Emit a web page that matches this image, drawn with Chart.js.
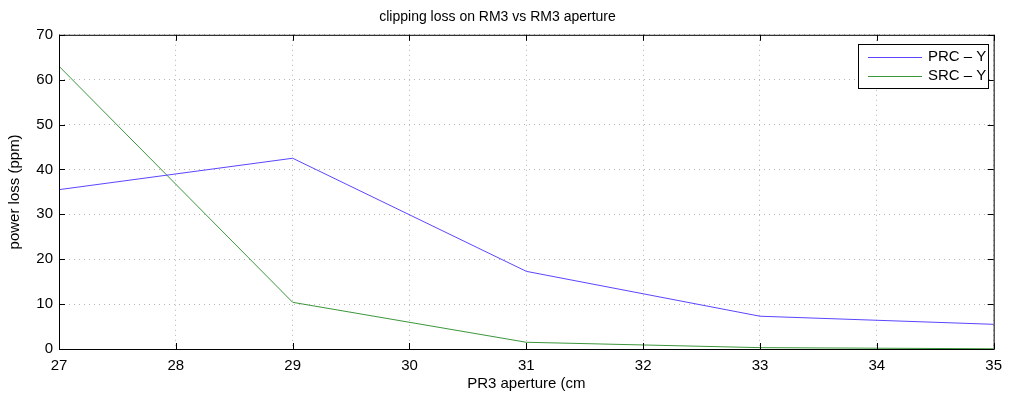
<!DOCTYPE html>
<html>
<head>
<meta charset="utf-8">
<script src="https://cdn.jsdelivr.net/npm/chart.js@4/dist/chart.umd.min.js"></script>
<style>
  html, body { margin: 0; padding: 0; background: #fff; }
  #wrap { width: 1010px; height: 393px; }
</style>
</head>
<body>
<div id="wrap"><canvas id="chart"></canvas></div>
<script>
// aperture (cm)
var apertures = [27, 29, 31, 33, 35];
// clipping loss (ppm)
var prcY = [35.5, 42.5, 17.3, 7.3, 5.5];
var srcY = [63, 10.4, 1.5, 0.3, 0.05];
var xTicks = [27, 28, 29, 30, 31, 32, 33, 34, 35];
var yTicks = [0, 10, 20, 30, 40, 50, 60, 70];

var FONT = '"Liberation Sans", Arial, Helvetica, sans-serif';

function toPoints(xs, ys) {
    return xs.map(function (x, i) { return { x: x, y: ys[i] }; });
}

// box, inward ticks and legend, matlab style
var boxPlugin = {
    id: 'box',
    afterDraw: function (chart) {
        var ctx = chart.ctx;
        var a = chart.chartArea;
        var xs = chart.scales.x, ys = chart.scales.y;
        ctx.save();
        ctx.strokeStyle = '#000';
        ctx.lineWidth = 1;
        ctx.strokeRect(a.left + 0.5, a.top + 0.5, a.right - a.left, a.bottom - a.top);

        ctx.beginPath();
        xTicks.forEach(function (v) {
            var px = Math.round(xs.getPixelForValue(v)) + 0.5;
            ctx.moveTo(px, a.bottom); ctx.lineTo(px, a.bottom - 6);
            ctx.moveTo(px, a.top); ctx.lineTo(px, a.top + 6);
        });
        yTicks.forEach(function (v) {
            var py = Math.round(ys.getPixelForValue(v)) + 0.5;
            ctx.moveTo(a.left, py); ctx.lineTo(a.left + 6, py);
            ctx.moveTo(a.right, py); ctx.lineTo(a.right - 6, py);
        });
        ctx.stroke();

        // legend
        var lx = 858, ly = 44, lw = 130, lh = 44;
        ctx.fillStyle = '#fff';
        ctx.fillRect(lx, ly, lw, lh);
        ctx.strokeStyle = '#000';
        ctx.strokeRect(lx + 0.5, ly + 0.5, lw, lh);
        ctx.font = '15px ' + FONT;
        ctx.textBaseline = 'middle';
        chart.data.datasets.forEach(function (ds, i) {
            var yy = ly + 13 + i * 19;
            ctx.strokeStyle = ds.borderColor;
            ctx.beginPath();
            ctx.moveTo(lx + 10, yy + 0.5);
            ctx.lineTo(lx + 64, yy + 0.5);
            ctx.stroke();
            ctx.fillStyle = '#000';
            ctx.fillText(ds.label, lx + 70, yy);
        });
        ctx.restore();
    }
};

new Chart(document.getElementById('chart'), {
    type: 'line',
    data: {
        datasets: [{
            label: 'PRC \u2013 Y',
            data: toPoints(apertures, prcY),
            borderColor: '#5a46ff',
            borderWidth: 1,
            pointRadius: 0,
            tension: 0,
            fill: false
        }, {
            label: 'SRC \u2013 Y',
            data: toPoints(apertures, srcY),
            borderColor: '#3c963c',
            borderWidth: 1,
            pointRadius: 0,
            tension: 0,
            fill: false
        }]
    },
    options: {
        responsive: true,
        maintainAspectRatio: false,
        animation: false,
        layout: { padding: { left: 0, right: 15, top: 0, bottom: 0 } },
        plugins: {
            legend: { display: false },
            tooltip: { enabled: false },
            title: {
                display: true,
                text: 'clipping loss on RM3 vs RM3 aperture',
                color: '#000',
                font: { family: FONT, size: 14, weight: 'normal' },
                padding: { top: 9, bottom: 9 }
            }
        },
        scales: {
            x: {
                type: 'linear',
                min: 27,
                max: 35,
                afterBuildTicks: function (s) { s.ticks = xTicks.map(function (v) { return { value: v }; }); },
                afterFit: function (s) { s.height = 44; },
                grid: { color: '#b4b4b4', drawTicks: false },
                border: { display: false, dash: [1, 4] },
                ticks: { color: '#000', padding: 8, font: { family: FONT, size: 15 } },
                title: {
                    display: true,
                    text: 'PR3 aperture (cm',
                    color: '#000',
                    font: { family: FONT, size: 15 },
                    padding: { top: 0, bottom: 0 }
                }
            },
            y: {
                min: 0,
                max: 70,
                afterBuildTicks: function (s) { s.ticks = yTicks.map(function (v) { return { value: v }; }); },
                afterFit: function (s) { s.width = 59; },
                grid: { color: '#b4b4b4', drawTicks: false },
                border: { display: false, dash: [1, 4] },
                ticks: { color: '#000', padding: 6, font: { family: FONT, size: 15 } },
                title: {
                    display: true,
                    text: 'power loss (ppm)',
                    color: '#000',
                    font: { family: FONT, size: 15 },
                    padding: { top: 6, bottom: 6 }
                }
            }
        }
    },
    plugins: [boxPlugin]
});
</script>
</body>
</html>
